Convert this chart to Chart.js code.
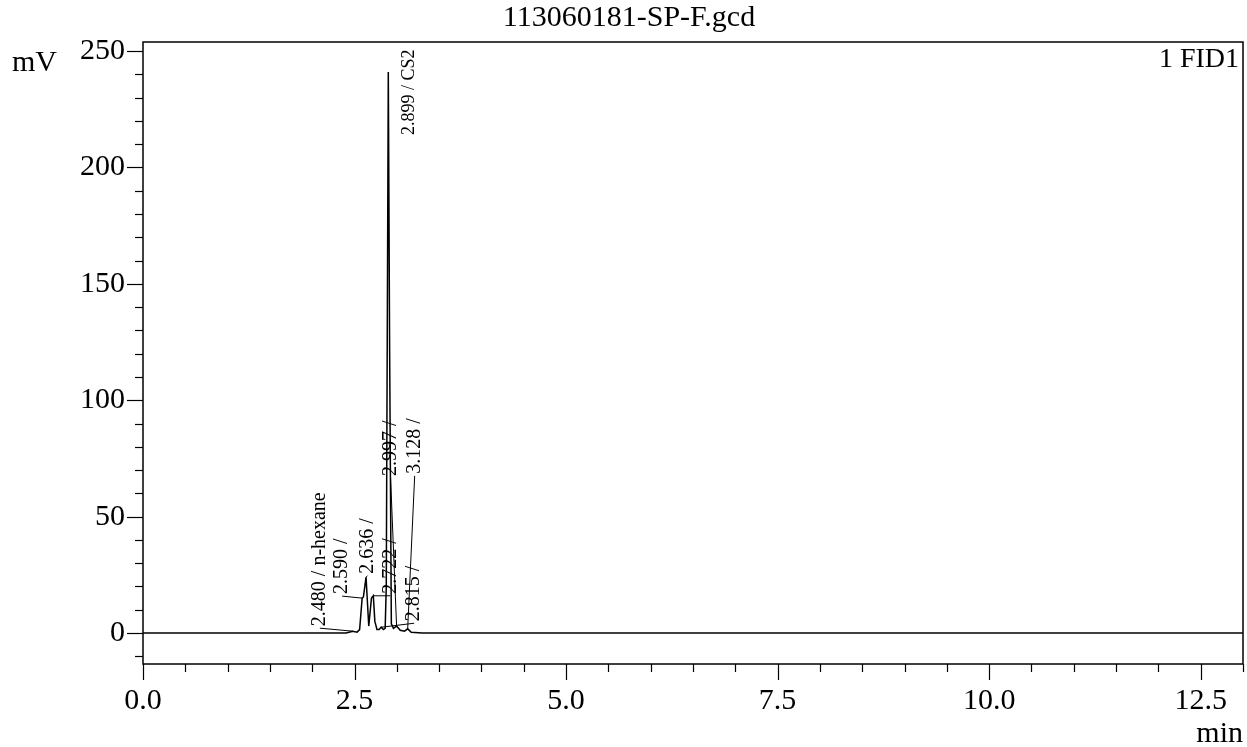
<!DOCTYPE html>
<html>
<head>
<meta charset="utf-8">
<script src="https://cdn.jsdelivr.net/npm/chart.js@4.4.1/dist/chart.umd.min.js"></script>
<style>
  html, body { margin: 0; padding: 0; background: #fff; }
  #wrap { width: 1247px; height: 747px; }
</style>
</head>
<body>
<div id="wrap"><canvas id="c" width="1247" height="747"></canvas></div>
<script>
// ---- data ----
const chartTitle = '113060181-SP-F.gcd';
const detectorName = '1 FID1';
const yUnit = 'mV';
const xUnit = 'min';

const retentionTimes = [0, 2.40, 2.480, 2.530, 2.560, 2.590, 2.605, 2.636, 2.668, 2.700, 2.722, 2.740, 2.765, 2.790, 2.815, 2.840, 2.862, 2.875, 2.899, 2.915, 2.935, 2.960, 2.997, 3.040, 3.090, 3.128, 3.170, 3.300, 13.0];
const signalMV     = [0, 0,    0.8,   0.4,   1.5,   15,    15.5,  24,    3,     15,    16,    5,     1.5,   1.5,   2.5,   1.5,   2,     20,    241,   120,   4,     2,     3,     1.2,   0.8,   1.8,   0.3,   0,     0];

const peakTimes = [2.480, 2.590, 2.636, 2.722, 2.815, 2.899, 2.997, 3.128];
const peakNames = ['n-hexane', '', '', '', '', 'CS2', '', ''];

const xMajorTicks = [0, 2.5, 5.0, 7.5, 10.0, 12.5];
const yMajorTicks = [0, 50, 100, 150, 200, 250];

// ---- styling / layout (not data) ----
const labelOffsets = [ // pixel offset of label start from peak apex
  [-33, -5], [-20, -4], [1.5, -3.5], [17, -2], [33, -6], [21, 63], [-6, -150], [7, -155]
];
const labelSizes = [20, 20, 20, 20, 20, 18, 20, 20];
const SERIF = '"Liberation Serif", "Times New Roman", serif';

function interp(t) {
  for (let i = 0; i < retentionTimes.length - 1; i++) {
    const a = retentionTimes[i], b = retentionTimes[i + 1];
    if (t >= a && t <= b) {
      const f = (t - a) / (b - a);
      return signalMV[i] + f * (signalMV[i + 1] - signalMV[i]);
    }
  }
  return 0;
}

const points = retentionTimes.map((t, i) => ({ x: t, y: signalMV[i] }));

const decor = {
  id: 'decor',
  afterDraw(chart) {
    const ctx = chart.ctx;
    const xs = chart.scales.x, ys = chart.scales.y;
    const a = chart.chartArea;
    ctx.save();
    ctx.strokeStyle = '#000';
    ctx.fillStyle = '#000';
    // frame
    ctx.lineWidth = 1.5;
    ctx.strokeRect(a.left, a.top, a.right - a.left, a.bottom - a.top);
    // y ticks
    ctx.lineWidth = 1.2;
    for (let v = -10; v <= 250; v += 10) {
      const y = Math.round(ys.getPixelForValue(v)) + 0.5;
      const major = yMajorTicks.includes(v);
      ctx.beginPath();
      ctx.moveTo(a.left - (major ? 16 : 8), y);
      ctx.lineTo(a.left, y);
      ctx.stroke();
    }
    // x ticks
    for (let k = 0; k <= 26; k++) {
      const v = k * 0.5;
      if (v > xs.max) break;
      const x = Math.round(xs.getPixelForValue(v)) + 0.5;
      const major = xMajorTicks.some(m => Math.abs(m - v) < 1e-9);
      ctx.beginPath();
      ctx.moveTo(x, a.bottom);
      ctx.lineTo(x, a.bottom + (major ? 16 : 8));
      ctx.stroke();
    }
    // texts
    ctx.font = '30px ' + SERIF;
    ctx.textBaseline = 'alphabetic';
    ctx.textAlign = 'center';
    ctx.fillText(chartTitle, 629, 26);
    ctx.textAlign = 'left';
    ctx.fillText(yUnit, 12, 71);
    ctx.textAlign = 'right';
    ctx.fillText(xUnit, 1243, 742);
    ctx.font = '28px ' + SERIF;
    ctx.fillText(detectorName, a.right - 4, 67);
    // peak labels
    ctx.lineWidth = 1;
    peakTimes.forEach((t, i) => {
      const px = xs.getPixelForValue(t);
      const py = ys.getPixelForValue(interp(t));
      const lx = px + labelOffsets[i][0];
      const ly = py + labelOffsets[i][1];
      if (labelOffsets[i][1] < 0) {
        ctx.beginPath();
        ctx.moveTo(lx, ly + 2);
        ctx.lineTo(px, py);
        ctx.stroke();
      }
      const txt = t.toFixed(3) + ' / ' + peakNames[i];
      ctx.save();
      ctx.font = labelSizes[i] + 'px ' + SERIF;
      ctx.translate(lx, ly);
      ctx.rotate(-Math.PI / 2);
      ctx.textAlign = 'left';
      ctx.textBaseline = 'middle';
      ctx.fillText(txt, 0, 0);
      ctx.restore();
    });
    ctx.restore();
  }
};

new Chart(document.getElementById('c'), {
  type: 'scatter',
  data: {
    datasets: [{
      data: points,
      showLine: true,
      borderColor: '#000',
      borderWidth: 1.5,
      pointRadius: 0,
      tension: 0,
      fill: false
    }]
  },
  options: {
    responsive: false,
    animation: false,
    devicePixelRatio: 1,
    layout: { padding: { top: 42, right: 4, left: 0, bottom: 0 } },
    plugins: { legend: { display: false }, tooltip: { enabled: false }, title: { display: false } },
    scales: {
      x: {
        type: 'linear',
        min: 0, max: 13.0,
        grid: { display: false, drawTicks: false },
        border: { display: false },
        afterFit: s => { s.height = 83; s.paddingRight = 0; s.paddingLeft = 0; },
        ticks: {
          stepSize: 0.5, autoSkip: false, maxRotation: 0, padding: 19, includeBounds: false,
          color: '#000', font: { family: SERIF, size: 30 },
          callback: v => xMajorTicks.some(m => Math.abs(m - v) < 1e-9) ? Number(v).toFixed(1) : ''
        }
      },
      y: {
        type: 'linear',
        min: -13.3, max: 253.9,
        grid: { display: false, drawTicks: false },
        border: { display: false },
        afterFit: s => { s.width = 143; s.paddingTop = 0; s.paddingBottom = 0; },
        ticks: {
          stepSize: 10, autoSkip: false, padding: 18, includeBounds: false,
          color: '#000', font: { family: SERIF, size: 30 },
          callback: v => yMajorTicks.some(m => Math.abs(m - v) < 1e-9) ? String(v) : ''
        }
      }
    }
  },
  plugins: [decor]
});
</script>
</body>
</html>
